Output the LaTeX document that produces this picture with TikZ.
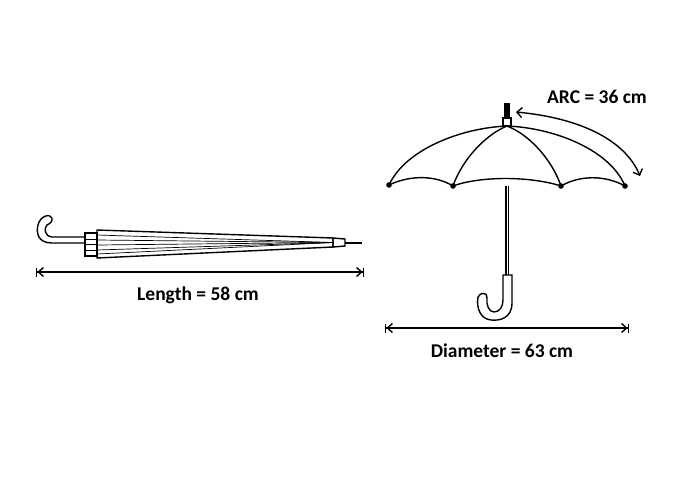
\documentclass[tikz,border=0pt]{standalone}
\usepackage{fontspec}
\setmainfont{Carlito}
\usetikzlibrary{arrows.meta}
\begin{document}
\begin{tikzpicture}[x=1pt,y=-1pt,line width=1.4pt,
  lbl/.style={font=\bfseries\fontsize{19.5}{22}\selectfont},
  dim/.style={{Bar[width=9pt]Straight Barb[length=5pt,width=9pt]}-{Straight Barb[length=5pt,width=9pt]Bar[width=9pt]}}]
\useasboundingbox (0,0) rectangle (679,480);
% closed umbrella
\coordinate (h0) at (85,243);
\draw (h0) -- (52,243) .. controls (38,243) and (36,233) .. (38,225) .. controls (40,216) and (50,213) .. (52,218) .. controls (53,222) and (49,224) .. (47,225) .. controls (44,228) and (44,236) .. (52,237) -- (85,237);
\draw (85,233) rectangle (97,256);
\draw[line width=0.8pt] (85,239)--(97,239) (85,244)--(97,244) (85,250)--(97,250);
\draw (97,230) -- (333,238) -- (333,247) -- (97,258) -- cycle;
\foreach \y in {235,240,245,250,254} \draw[line width=0.7pt] (97,\y) -- (333,242.5);
\draw (333,238) -- (345,239) -- (345,246) -- (333,247) -- cycle;
\draw[line width=2.2pt] (345,243) -- (362,243);
\coordinate (la) at (36,272); \coordinate (lb) at (364,272);
\draw[dim] (la) -- (lb);
\node[lbl] (lt) at (198,295) {Length = 58 cm};
% open umbrella
\coordinate (top) at (507,126);
\coordinate (r1) at (389,185); \coordinate (r2) at (453,186);
\coordinate (r3) at (561,186); \coordinate (r4) at (625,186);
\draw (r1) .. controls (405,150) and (460,128) .. (top) .. controls (555,128) and (610,150) .. (r4);
\draw (r2) .. controls (462,160) and (485,135) .. (top) .. controls (530,135) and (552,160) .. (r3);
\draw (r1) .. controls (410,175) and (435,175) .. (r2) .. controls (480,176) and (530,176) .. (r3) .. controls (580,175) and (605,175) .. (r4);
\foreach \p in {r1,r2,r3,r4} \fill (\p) circle (2.8pt);
\draw[fill=white] (503,118) rectangle (511,126);
\fill (504,103) rectangle (510,118);
\draw[line width=3.4pt] (507,186) -- (507,276);
\draw[line width=0.9pt,white] (507,186) -- (507,276);
\draw[fill=white] (503,275) -- (512,275) -- (512,303) .. controls (512,318) and (500,321) .. (491,320) .. controls (481,319) and (476,309) .. (478,297) .. controls (480,292) and (488,292) .. (487,298) .. controls (486,305) and (489,312) .. (494,312) .. controls (500,312) and (503,306) .. (503,300) -- cycle;
\coordinate (aa) at (516,112); \coordinate (ab) at (640,176);
\draw[{Straight Barb[length=5pt,width=10pt]}-{Straight Barb[length=5pt,width=10pt]}] (aa) .. controls (580,118) and (625,140) .. (ab);
\node[lbl] (at) at (597,97) {ARC = 36 cm};
\coordinate (da) at (385,328); \coordinate (db) at (629,328);
\draw[dim] (da) -- (db);
\node[lbl] (dt) at (502,351) {Diameter = 63 cm};
\end{tikzpicture}
\end{document}
